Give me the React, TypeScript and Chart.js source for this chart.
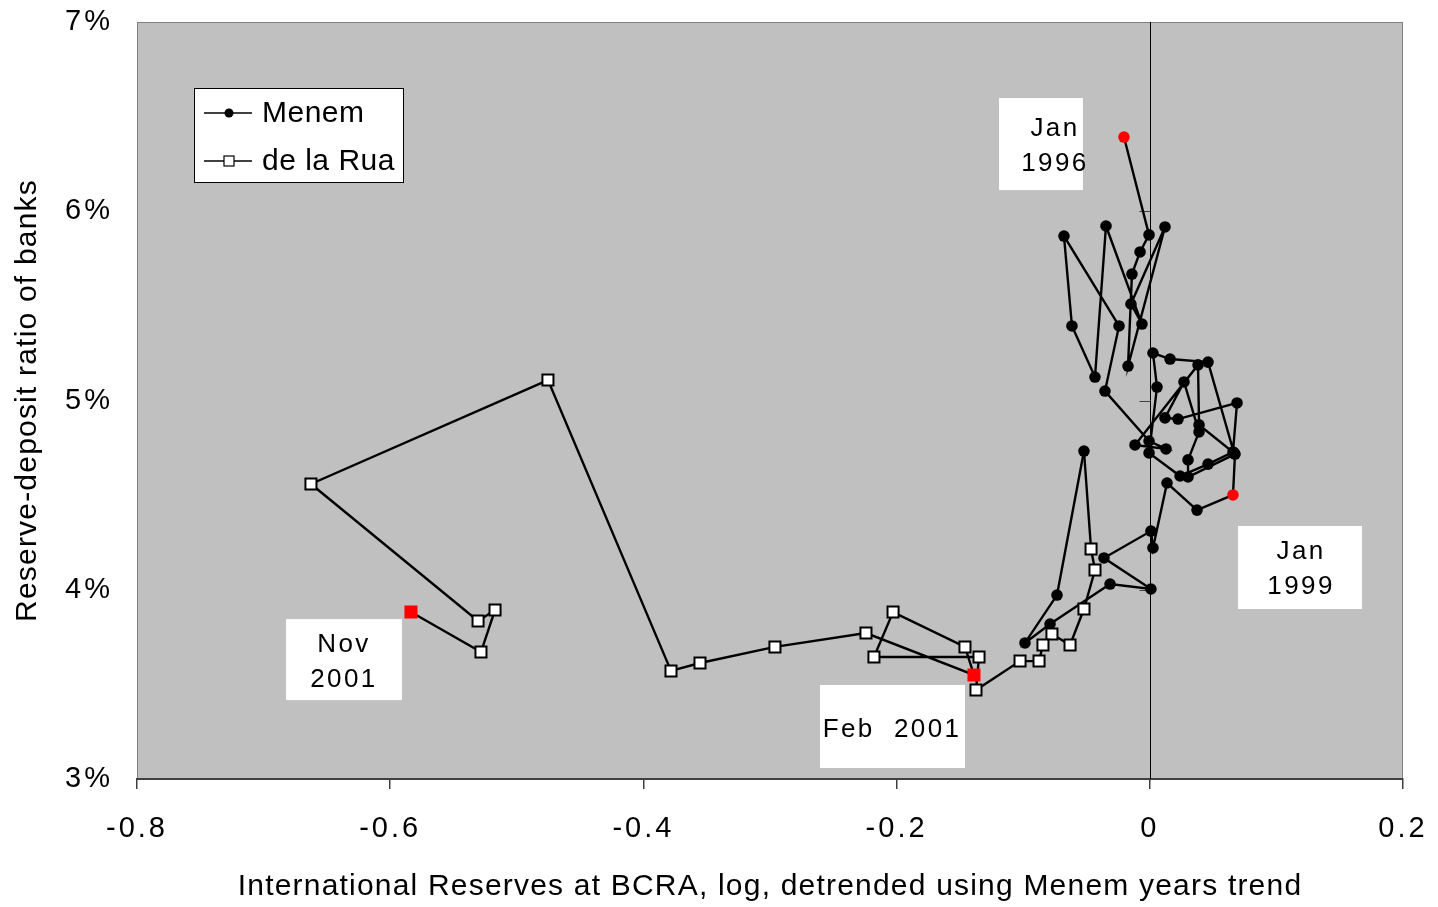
import React, { useEffect, useRef } from 'react';
import { Chart, registerables } from 'chart.js';

Chart.register(...registerables);

// Menem years (Jan 1996 - Dec 1999): x = log reserves detrended, y = reserve-deposit ratio (%)
const menemX = [
  -0.0204, -0.0006, -0.0077, -0.0141, -0.0172, 0.012, -0.0149, -0.0062, -0.0346, -0.0433, -0.0615, -0.0678,
  -0.0243, -0.0354, -0.0006, 0.0128, -0.0117, 0.0381, 0.0389, 0.0665, 0.046, 0.016, 0.0025, 0.0057,
  -0.0006, 0.0239, 0.046, 0.0657, 0.0689, 0.0223, 0.012, 0.027, 0.0389, 0.0302, 0.0302, 0.0673,
  0.0657, 0.0373, 0.0136, 0.0025, 0.0009, -0.0362, 0.0009, -0.0314, -0.0788, -0.0986, -0.0733, -0.052,
];
const menemY = [
  6.392, 5.875, 5.785, 5.668, 5.182, 5.917, 5.51, 5.404, 5.922, 5.124, 5.394, 5.869,
  5.394, 5.05, 4.786, 4.744, 4.765, 5.188, 4.871, 4.723, 5.203, 5.219, 5.251, 5.071,
  4.723, 4.601, 4.664, 4.728, 4.987, 4.902, 4.908, 5.098, 4.834, 4.686, 4.596, 4.717,
  4.501, 4.421, 4.564, 4.221, 4.31, 4.168, 4.004, 4.03, 3.819, 3.719, 3.972, 4.733,
];
const menemHighlight = [0, 36]; // Jan 1996, Jan 1999

// de la Rua years
const deLaRuaX = [
  -0.0464, -0.0433, -0.052, -0.063, -0.0773, -0.0844, -0.0875, -0.1025, -0.1373, -0.1349, -0.2179, -0.2028,
  -0.146, -0.1389, -0.2242, -0.2961, -0.3553, -0.3782, -0.4754, -0.6626, -0.5306, -0.5172, -0.5283, -0.5836,
];
const deLaRuaY = [
  4.215, 4.104, 3.898, 3.708, 3.766, 3.708, 3.623, 3.623, 3.47, 3.645, 3.645, 3.882,
  3.698, 3.55, 3.771, 3.698, 3.613, 3.571, 5.108, 4.559, 3.835, 3.893, 3.671, 3.882,
];
const deLaRuaHighlight = [13, 23]; // Feb 2001, Nov 2001

const seriesNames = ['Menem', 'de la Rua'];
const xTitle = 'International Reserves at BCRA, log, detrended using Menem years trend';
const yTitle = 'Reserve-deposit ratio of banks';
const xMin = -0.8, xMax = 0.2, xStep = 0.2;
const yMin = 3, yMax = 7, yStep = 1;

// Callout labels: [text lines], box extents and text anchor in data units
const calloutLines = [['Jan', '1996'], ['Jan', '1999'], ['Nov', '2001'], ['Feb  2001']];
const calloutBoxX = [[-0.1191, -0.0528], [0.0697, 0.1676], [-0.6823, -0.5907], [-0.2605, -0.146]];
const calloutBoxY = [[6.598, 6.112], [4.337, 3.898], [3.845, 3.417], [3.497, 3.058]];
const calloutTextX = [-0.0757, 0.1187, -0.6373, -0.2044];
const calloutTextY = [[6.435, 6.25], [4.2, 4.015], [3.709, 3.524], [3.259]];

const FONT = '"Liberation Sans", Arial, sans-serif';

export default function App() {
  const ref = useRef<HTMLCanvasElement | null>(null);

  useEffect(() => {
    const canvas = ref.current;
    if (!canvas) return;

    const menemData = menemX.map((x, i) => ({ x, y: menemY[i] }));
    const last = menemData[menemData.length - 1];
    const deLaRuaData = [last, ...deLaRuaX.map((x, i) => ({ x, y: deLaRuaY[i] }))];

    const menemColors = menemX.map((_, i) => (menemHighlight.includes(i) ? '#FF0000' : '#000000'));
    const dlrFill = ['#ffffff', ...deLaRuaX.map((_, i) => (deLaRuaHighlight.includes(i) ? '#FF0000' : '#ffffff'))];
    const dlrBorder = ['#000000', ...deLaRuaX.map((_, i) => (deLaRuaHighlight.includes(i) ? '#FF0000' : '#000000'))];
    const dlrRadius = [0, ...deLaRuaX.map(() => 7.8)];

    const zeroPad = (s: any) => {
      s.paddingTop = 0;
      s.paddingBottom = 0;
      s.paddingLeft = 0;
      s.paddingRight = 0;
    };

    const bgPlugin = {
      id: 'bg',
      beforeDraw(chart: any) {
        const { ctx, chartArea: a } = chart;
        ctx.save();
        ctx.fillStyle = '#C0C0C0';
        ctx.fillRect(a.left, a.top, a.right - a.left, a.bottom - a.top);
        ctx.strokeStyle = '#808080';
        ctx.lineWidth = 1;
        ctx.strokeRect(a.left + 0.5, a.top + 0.5, a.right - a.left - 1, a.bottom - a.top);
        ctx.restore();
        (ctx as any).letterSpacing = '3px';
      },
      beforeDatasetsDraw(chart: any) {
        const { ctx, chartArea: a, scales } = chart;
        const x0 = Math.round(scales.x.getPixelForValue(0)) + 0.5;
        ctx.save();
        ctx.strokeStyle = '#000000';
        ctx.lineWidth = 1;
        ctx.beginPath();
        ctx.moveTo(x0, a.top);
        ctx.lineTo(x0, a.bottom);
        ctx.stroke();
        ctx.strokeStyle = '#404040';
        for (let v = yMin + yStep; v < yMax; v += yStep) {
          const py = Math.round(scales.y.getPixelForValue(v)) + 0.5;
          ctx.beginPath();
          ctx.moveTo(x0 - 11, py);
          ctx.lineTo(x0, py);
          ctx.stroke();
        }
        ctx.restore();
      },
      afterDatasetsDraw(chart: any) {
        const { ctx, scales } = chart;
        ctx.save();
        // callouts
        for (let i = 0; i < calloutLines.length; i++) {
          const bx0 = scales.x.getPixelForValue(calloutBoxX[i][0]);
          const bx1 = scales.x.getPixelForValue(calloutBoxX[i][1]);
          const by0 = scales.y.getPixelForValue(calloutBoxY[i][0]);
          const by1 = scales.y.getPixelForValue(calloutBoxY[i][1]);
          ctx.fillStyle = '#ffffff';
          ctx.fillRect(bx0, by0, bx1 - bx0, by1 - by0);
          ctx.fillStyle = '#000000';
          ctx.font = `26px ${FONT}`;
          (ctx as any).letterSpacing = '2.4px';
          ctx.textAlign = 'center';
          ctx.textBaseline = 'middle';
          const tx = scales.x.getPixelForValue(calloutTextX[i]);
          calloutLines[i].forEach((t, j) => {
            ctx.fillText(t, tx + 1, scales.y.getPixelForValue(calloutTextY[i][j]));
          });
        }
        // legend
        const lx = 194, ly = 88, lw = 209, lh = 94;
        ctx.fillStyle = '#ffffff';
        ctx.fillRect(lx, ly, lw, lh);
        ctx.strokeStyle = '#000000';
        ctx.lineWidth = 1;
        ctx.strokeRect(lx + 0.5, ly + 0.5, lw, lh);
        const rows = [113, 161];
        rows.forEach((ry, k) => {
          ctx.strokeStyle = '#000000';
          ctx.lineWidth = 1.5;
          ctx.beginPath();
          ctx.moveTo(204, ry);
          ctx.lineTo(252, ry);
          ctx.stroke();
          if (k === 0) {
            ctx.fillStyle = '#000000';
            ctx.beginPath();
            ctx.arc(229, ry, 4.5, 0, Math.PI * 2);
            ctx.fill();
          } else {
            ctx.fillStyle = '#ffffff';
            ctx.fillRect(224, ry - 5, 10, 10);
            ctx.lineWidth = 1.2;
            ctx.strokeRect(224, ry - 5, 10, 10);
          }
          ctx.fillStyle = '#000000';
          ctx.font = `30px ${FONT}`;
          (ctx as any).letterSpacing = '0.5px';
          ctx.textAlign = 'left';
          ctx.textBaseline = 'middle';
          ctx.fillText(seriesNames[k], 262, ry + 1);
        });
        ctx.restore();
      },
      afterDraw(chart: any) {
        const { ctx, chartArea: a } = chart;
        ctx.save();
        ctx.fillStyle = '#000000';
        ctx.font = `30px ${FONT}`;
        (ctx as any).letterSpacing = '1.2px';
        ctx.textAlign = 'center';
        ctx.textBaseline = 'middle';
        ctx.fillText(xTitle, (a.left + a.right) / 2, a.bottom + 108);
        ctx.translate(a.left - 109, (a.top + a.bottom) / 2);
        ctx.rotate(-Math.PI / 2);
        ctx.fillText(yTitle, 0, 0);
        ctx.restore();
        (ctx as any).letterSpacing = '0px';
      },
    };

    const chart = new Chart(canvas, {
      type: 'scatter',
      data: {
        datasets: [
          {
            label: seriesNames[1],
            data: deLaRuaData,
            showLine: true,
            borderColor: '#000000',
            borderWidth: 2.4,
            pointStyle: 'rect',
            pointRadius: dlrRadius,
            pointHoverRadius: dlrRadius,
            pointBackgroundColor: dlrFill,
            pointBorderColor: dlrBorder,
            pointBorderWidth: 2,
            order: 0,
          },
          {
            label: seriesNames[0],
            data: menemData,
            showLine: true,
            borderColor: '#000000',
            borderWidth: 2.4,
            pointStyle: 'circle',
            pointRadius: 5.8,
            pointHoverRadius: 5.8,
            pointBackgroundColor: menemColors,
            pointBorderColor: menemColors,
            pointBorderWidth: 0,
            order: 1,
          },
        ],
      },
      options: {
        animation: false,
        responsive: false,
        events: [],
        layout: { padding: { top: 22, right: 35, bottom: 0, left: 0 } },
        plugins: { legend: { display: false }, tooltip: { enabled: false } },
        scales: {
          x: {
            type: 'linear',
            min: xMin,
            max: xMax,
            afterFit: (s: any) => { s.height = 128; zeroPad(s); },
            border: { display: true, color: '#404040', width: 2 },
            grid: { display: true, drawOnChartArea: false, drawTicks: true, tickLength: 10, color: '#404040', lineWidth: 1.5 },
            ticks: {
              stepSize: xStep,
              padding: 23,
              color: '#000000',
              font: { family: FONT, size: 29 },
              maxRotation: 0,
              callback: (v: any) => String(Math.round(Number(v) * 10) / 10),
            },
          },
          y: {
            type: 'linear',
            min: yMin,
            max: yMax,
            afterFit: (s: any) => { s.width = 137; zeroPad(s); },
            border: { display: false },
            grid: { display: false, drawTicks: false },
            ticks: {
              stepSize: yStep,
              padding: 24,
              color: '#000000',
              font: { family: FONT, size: 29 },
              callback: (v: any) => `${Math.round(Number(v))}%`,
            },
          },
        },
      },
      plugins: [bgPlugin],
    } as any);

    return () => chart.destroy();
  }, []);

  return (
    <div style={{ position: 'absolute', left: 0, top: 0, width: 1438, height: 907, background: '#ffffff' }}>
      <canvas ref={ref} width={1438} height={907} style={{ display: 'block' }} />
    </div>
  );
}
